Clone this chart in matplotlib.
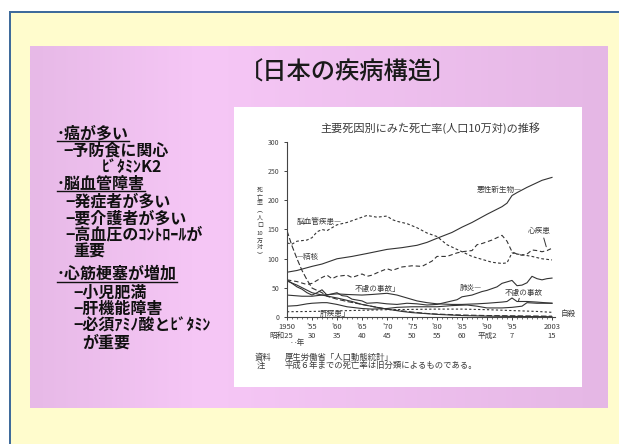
import matplotlib
matplotlib.use('Agg')
import matplotlib.pyplot as plt
import matplotlib.patches as mpatches
import numpy as np
from matplotlib.colors import LinearSegmentedColormap

plt.rcParams['font.family'] = ['Noto Sans CJK JP', 'DejaVu Sans']

# ---------------- data ----------------
cancer_years = [1950, 1952, 1955, 1957, 1960, 1963, 1966, 1970, 1973, 1976, 1978, 1980,
                1983, 1985, 1987, 1990, 1993, 1994, 1995, 1996, 1998, 2000, 2001, 2003]
cancer_vals = [77, 80, 87, 91, 100, 104, 109, 116, 119, 123, 128, 135,
               145, 154, 162, 176, 189, 195, 208, 213, 222, 230, 234, 239]

cerebro_years = [1950, 1951, 1952, 1954, 1955, 1956, 1957, 1958, 1960, 1962, 1964, 1966,
                 1968, 1970, 1971, 1972, 1974, 1976, 1978, 1980, 1982, 1985, 1987, 1989,
                 1991, 1993, 1994, 1995, 1996, 1997, 1999, 2001, 2003]
cerebro_vals = [127, 125, 130, 132, 136, 146, 150, 148, 158, 162, 168, 174,
                171, 173, 167, 164, 160, 153, 144, 138, 124, 112, 104, 99,
                94, 92, 93, 110, 108, 107, 104, 100, 98]

heart_years = [1950, 1952, 1954, 1955, 1956, 1957, 1958, 1959, 1960, 1962, 1963, 1965,
               1966, 1967, 1968, 1970, 1971, 1973, 1975, 1977, 1979, 1980, 1982, 1984,
               1985, 1987, 1988, 1989, 1991, 1993, 1994, 1995, 1996, 1997, 1998, 1999,
               2000, 2001, 2002, 2003]
heart_vals = [64, 61, 56, 58, 63, 68, 72, 66, 70, 72, 68, 74,
              70, 72, 76, 83, 80, 86, 88, 87, 96, 104, 104, 110,
              112, 114, 124, 126, 132, 140, 130, 112, 108, 106, 108, 115,
              114, 112, 114, 118]

tb_years = [1950, 1951, 1952, 1953, 1954, 1955, 1956, 1957, 1958, 1960, 1962, 1965,
            1968, 1970, 1973, 1975, 1978, 1980, 1985, 1990, 1995, 2003]
tb_vals = [148, 122, 100, 80, 64, 50, 46, 42, 36, 31, 27, 22,
           17, 14, 11, 9, 6.5, 5.5, 3.9, 3.0, 2.6, 1.9]

pneu_years = [1950, 1951, 1952, 1953, 1954, 1955, 1956, 1957, 1958, 1959, 1960, 1961,
              1962, 1963, 1965, 1966, 1968, 1970, 1972, 1974, 1976, 1978, 1980, 1982,
              1984, 1985, 1987, 1989, 1990, 1992, 1993, 1995, 1996, 1997, 1998, 1999,
              2000, 2001, 2002, 2003]
pneu_vals = [64, 58, 52, 48, 42, 38, 42, 47, 38, 40, 42, 37,
             36, 31, 28, 24, 25, 23, 22, 24, 23, 21, 22, 26,
             30, 35, 38, 44, 46, 52, 58, 63, 54, 55, 59, 70,
             66, 64, 66, 67]

acc_years = [1950, 1953, 1955, 1957, 1960, 1962, 1965, 1967, 1970, 1972, 1974, 1976,
             1978, 1980, 1983, 1985, 1988, 1990, 1993, 1994, 1995, 1996, 1998, 2000, 2003]
acc_vals = [38, 36, 36, 38, 40, 39, 38, 39, 41, 38, 33, 28,
            25, 23, 22, 22, 23, 24, 26, 27, 33, 27, 27, 26, 24]

suicide_years = [1950, 1952, 1954, 1955, 1957, 1958, 1960, 1962, 1965, 1967, 1970, 1972,
                 1975, 1978, 1980, 1983, 1986, 1988, 1990, 1993, 1995, 1997, 1998, 2000, 2003]
suicide_vals = [19, 20, 23, 24, 25, 25, 22, 18, 15, 14, 15, 17,
                18, 18, 18, 20, 21, 19, 16, 16, 17, 19, 25, 24, 24]

liver_years = [1950, 1955, 1960, 1965, 1970, 1975, 1980, 1985, 1990, 1995, 2000, 2003]
liver_vals = [9.5, 10, 11, 12, 13, 13.5, 14, 14, 13, 11.5, 10, 8.5]

gastro_years = [1950, 1952, 1955, 1957, 1960, 1963, 1965, 1968, 1970, 1973, 1975, 1980,
                1985, 1990, 1995, 2003]
gastro_vals = [62, 55, 42, 38, 33, 27, 22, 17, 14, 10, 8, 5, 3, 2, 1.5, 1]

tick_years = [1950, 1955, 1960, 1965, 1970, 1975, 1980, 1985, 1990, 1995, 2003]
tick_labels_ad = ['1950', "'55", "'60", "'65", "'70", "'75", "'80", "'85", "'90", "'95", '2003']
tick_labels_jp = ['昭和25', '30', '35', '40', '45', '50', '55', '60', '平成2', '7', '15']
y_ticks = [0, 50, 100, 150, 200, 250, 300]

bullets = [
    ('･癌が多い', 0, True),
    ('−予防食に関心', 1, False),
    ('ﾋﾞﾀﾐﾝK2', 3, False),
    ('･脳血管障害', 0, True),
    ('−発症者が多い', 2, False),
    ('−要介護者が多い', 2, False),
    ('−高血圧のｺﾝﾄﾛｰﾙが', 2, False),
    ('重要', 4, False),
    ('･心筋梗塞が増加', 0, True),
    ('−小児肥満', 5, False),
    ('−肝機能障害', 5, False),
    ('−必須ｱﾐﾉ酸とﾋﾞﾀﾐﾝ', 5, False),
    ('が重要', 6, False),
]
indent_x = [57, 63, 65, 102, 73, 73, 82]
bullet_y = [133.3, 150.7, 166.7, 184, 201.7, 218.3, 235, 251.7, 274, 292.3, 309, 325.7, 342.3]

# ---------------- figure ----------------
W, H = 619, 444
fig = plt.figure(figsize=(W / 100, H / 100), dpi=100)
fig.patch.set_facecolor('white')
bg = fig.add_axes([0, 0, 1, 1])
bg.axis('off')

bg.add_patch(mpatches.Rectangle((11, 13), W - 11, H - 13, facecolor='#fffccd', edgecolor='none'))
bg.add_patch(mpatches.Rectangle((9, 11), 2.2, H - 11, facecolor='#3f6b9b', edgecolor='none'))
bg.add_patch(mpatches.Rectangle((9, 11), W - 9, 2.2, facecolor='#3f6b9b', edgecolor='none'))

cmap = LinearSegmentedColormap.from_list('pink', [(0, '#e7b9e7'), (0.3, '#f6c7f6'), (1, '#e5b7e5')])
bg.imshow(np.linspace(0, 1, 256)[None, :], extent=[30, 608, 408, 47], aspect='auto', cmap=cmap,
          interpolation='bilinear', zorder=1)
bg.add_patch(mpatches.Rectangle((234, 107), 348, 280, facecolor='white', edgecolor='none', zorder=2))
bg.set_xlim(0, W)
bg.set_ylim(H, 0)

# slide title
bg.text(348, 73, '〔日本の疾病構造〕', fontsize=17.5, fontweight='medium', color='#1a1a1a',
        ha='center', va='center', zorder=3)

# bullet list
fig.canvas.draw()
renderer = fig.canvas.get_renderer()
for (txt, ind, under), yy in zip(bullets, bullet_y):
    t = bg.text(indent_x[ind], yy, txt, fontsize=11.5, fontweight='bold', color='#111111',
                ha='left', va='center', zorder=3)
    if under:
        bb = t.get_window_extent(renderer=renderer)
        x0, x1 = bb.x0 / fig.dpi * 100, bb.x1 / fig.dpi * 100
        bg.plot([x0, x1], [yy + 7.5, yy + 7.5], color='#111111', lw=1.0, zorder=3)

# chart text outside axes
tc = '#3a3a3a'
bg.text(430, 128, '主要死因別にみた死亡率(人口10万対)の推移', fontsize=8, color=tc,
        ha='center', va='center', zorder=3)
ylabel_chars = ['死', '亡', '率', '︵', '人', '口', '10', '万', '対', '︶']
ylabel_pos = [190.5, 196.8, 203.1, 210, 218.3, 225, 233.3, 241, 247.7, 255]
for ch, yy in zip(ylabel_chars, ylabel_pos):
    bg.text(260, yy, ch, fontsize=4.3, color=tc, ha='center', va='center', zorder=3)
bg.text(255, 357, '資料', fontsize=6, color=tc, ha='left', va='center', zorder=3)
bg.text(285, 357, '厚生労働省「人口動態統計」', fontsize=6, color=tc, ha='left', va='center', zorder=3)
bg.text(257, 365, '注', fontsize=6, color=tc, ha='left', va='center', zorder=3)
bg.text(285, 365, '平成６年までの死亡率は旧分類によるものである。', fontsize=6, color=tc,
        ha='left', va='center', zorder=3)

# ---------------- chart axes ----------------
ax = fig.add_axes([287 / W, 1 - 317.3 / H, 268 / W, 175.6 / H])
ax.patch.set_visible(False)
ax.set_xlim(1950, 2003.6)
ax.set_ylim(0, 300)
for s in ['top', 'right']:
    ax.spines[s].set_visible(False)
for s in ['left', 'bottom']:
    ax.spines[s].set_color('#444444')
    ax.spines[s].set_linewidth(0.8)
ax.set_yticks(y_ticks)
ax.set_yticklabels([str(v) for v in y_ticks])
ax.tick_params(axis='y', direction='out', length=2.5, width=0.7, pad=3, labelsize=5, colors='#444444')
ax.set_xticks(tick_years)
ax.set_xticklabels([])
ax.set_xticks(np.arange(1950, 2004), minor=True)
ax.tick_params(axis='x', which='major', direction='out', length=2.5, width=0.7, colors='#444444')
ax.tick_params(axis='x', which='minor', direction='out', length=1.5, width=0.6, colors='#555555')

lc = '#333333'
lw = 0.8
ax.plot(cancer_years, cancer_vals, color=lc, lw=lw)
ax.plot(cerebro_years, cerebro_vals, color=lc, lw=lw, dashes=(2.5, 2))
ax.plot(heart_years, heart_vals, color=lc, lw=lw, dashes=(4, 2.5))
ax.plot(tb_years, tb_vals, color=lc, lw=lw, dashes=(5, 2))
ax.plot(pneu_years, pneu_vals, color=lc, lw=lw)
ax.plot(acc_years, acc_vals, color=lc, lw=lw)
ax.plot(suicide_years, suicide_vals, color=lc, lw=lw)
ax.plot(liver_years, liver_vals, color=lc, lw=lw, dashes=(2, 2))
ax.plot(gastro_years, gastro_vals, color=lc, lw=lw)

# x tick label rows
xt = ax.get_xaxis_transform()
for yr, a, j in zip(tick_years, tick_labels_ad, tick_labels_jp):
    ax.text(yr, -0.055, a, transform=xt, fontsize=5.5, color=tc, ha='center', va='center', clip_on=False)
    if j == tick_labels_jp[0]:
        ax.text(yr + 1.2, -0.107, j, transform=xt, fontsize=5.5, color=tc, ha='right', va='center', clip_on=False)
    else:
        ax.text(yr, -0.107, j, transform=xt, fontsize=5.5, color=tc, ha='center', va='center', clip_on=False)
ax.text(tick_years[0] + 2, -0.147, '‥年', transform=xt, fontsize=5.5, color=tc, ha='center', va='center',
        clip_on=False)

# series labels
fs = 5.5
ax.text(1997, 218, '悪性新生物—', fontsize=fs, color=tc, ha='right', va='center')
ax.text(1952, 163, '脳血管疾患—', fontsize=fs, color=tc, ha='left', va='center')
ax.text(2000.5, 148, '心疾患', fontsize=fs, color=tc, ha='center', va='center')
ax.annotate('', xy=(2002, 116), xytext=(2001.2, 140),
            arrowprops=dict(arrowstyle='-', color=lc, lw=0.7))
ax.text(1952, 103, '—結核', fontsize=fs, color=tc, ha='left', va='center')
ax.text(1963.6, 48, '不慮の事故」', fontsize=fs, color=tc, ha='left', va='center')
ax.text(1984.6, 50, '肺炎—', fontsize=fs, color=tc, ha='left', va='center')
ax.text(1993.6, 41.5, '不慮の事故', fontsize=fs, color=tc, ha='left', va='center')
ax.annotate('', xy=(1996.3, 28), xytext=(1996.6, 37),
            arrowprops=dict(arrowstyle='-', color=lc, lw=0.7))
ax.text(1956.6, 5.6, '肝疾患」', fontsize=fs, color=tc, ha='left', va='center')
ax.text(2006.2, 5.6, '自殺', fontsize=fs, color=tc, ha='center', va='center', clip_on=False)

fig.savefig('out.png', dpi=100)
